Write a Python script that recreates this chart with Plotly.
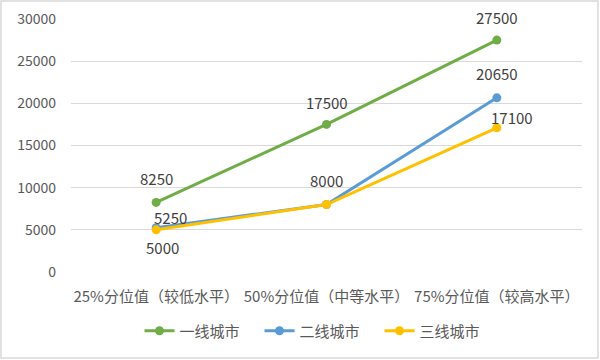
import plotly.graph_objects as go

categories = ["25%分位值（较低水平）", "50%分位值（中等水平）", "75%分位值（较高水平）"]
series_names = ["一线城市", "二线城市", "三线城市"]
tier1 = [8250, 17500, 27500]
tier2 = [5250, 8000, 20650]
tier3 = [5000, 8000, 17100]
y_ticks = [0, 5000, 10000, 15000, 20000, 25000, 30000]

colors = ["#70AD47", "#5B9BD5", "#FFC000"]
series = [tier1, tier2, tier3]

# label offsets (xshift, yshift) per series/point, mimicking Excel placement
offsets = [
    [(0, 24), (0, 22), (0, 23)],
    [(14, 10), (0, 24), (0, 24)],
    [(6, -18), (0, 24), (15, 10)],
]

W, H = 600, 360
ML, MR, MT, MB = 71, 18, 19, 88
PW, PH = W - ML - MR, H - MT - MB

font_family = "Noto Sans CJK SC, Noto Sans, sans-serif"
text_color = "#595959"

fig = go.Figure()
annotations = []
seen = set()
for name, vals, col, offs in zip(series_names, series, colors, offsets):
    fig.add_trace(go.Scatter(
        x=categories, y=vals, name=name, mode="lines+markers",
        line=dict(color=col, width=3),
        marker=dict(color=col, size=9),
        hoverinfo="skip",
    ))
    for c, v, (dx, dy) in zip(categories, vals, offs):
        if (c, v) in seen:
            continue  # coincident labels overlap exactly; draw once
        seen.add((c, v))
        annotations.append(dict(
            x=c, y=v, xref="x", yref="y", text=str(v), showarrow=False,
            xshift=dx, yshift=dy,
            font=dict(family=font_family, size=15, color="#404040"),
        ))

fig.update_layout(
    width=W, height=H,
    margin=dict(l=ML, r=MR, t=MT, b=MB, autoexpand=False),
    paper_bgcolor="white", plot_bgcolor="white",
    font=dict(family=font_family, size=14, color=text_color),
    showlegend=True,
    legend=dict(orientation="h", x=0.5 - 7 / PW, xanchor="center",
                y=(272 - 331) / PH, yanchor="middle",
                font=dict(size=15, color=text_color),
                itemwidth=30, tracegroupgap=0, entrywidth=75,
                entrywidthmode="pixels"),
    annotations=annotations,
    shapes=[dict(type="rect", xref="paper", yref="paper",
                 x0=(1 - ML) / PW, x1=(598 - ML) / PW,
                 y0=(H - MB - 358) / PH, y1=(H - MB - 1) / PH,
                 line=dict(color="#D9D9D9", width=1.5), layer="below")],
)
fig.update_xaxes(type="category", range=[-0.5, 2.5], showgrid=False,
                 showline=False, zeroline=False, ticks="",
                 ticklabelstandoff=14, tickfont=dict(size=15, color=text_color))
fig.update_yaxes(range=[0, 30000], tickvals=y_ticks,
                 ticktext=[str(t) for t in y_ticks], showgrid=True,
                 gridcolor="#D9D9D9", gridwidth=1, zeroline=False, showline=False,
                 ticks="", ticklabelstandoff=14,
                 tickfont=dict(size=14, color=text_color))

fig.write_html("out.html", config={"displayModeBar": False},
               post_script="document.body.style.margin='0';")
